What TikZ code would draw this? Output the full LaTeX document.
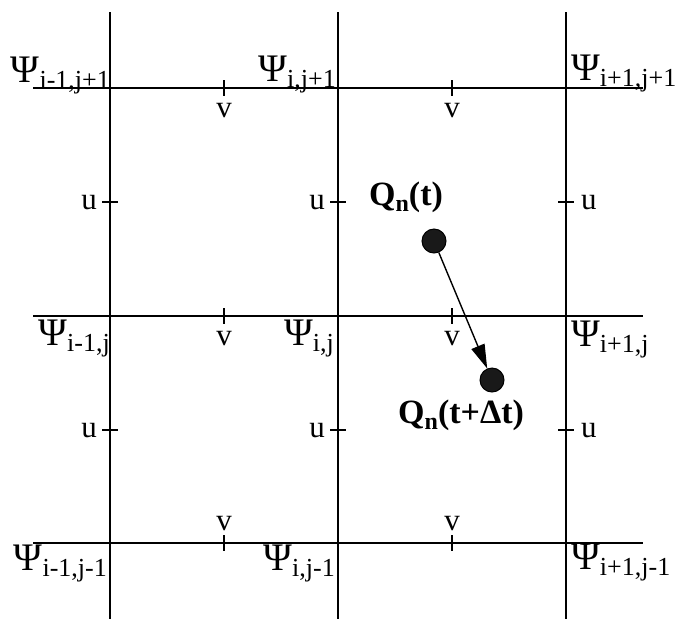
\documentclass[tikz,border=0pt]{standalone}
\usepackage{fontspec}
\setmainfont{Liberation Serif}
\usetikzlibrary{arrows.meta}
\newcommand{\mypsi}[1]{{\fontsize{39}{39}\selectfont Ψ}\raisebox{-6pt}{\fontsize{26}{26}\selectfont #1}}
\newcommand{\myq}[1]{{\bfseries\fontsize{34}{34}\selectfont Q\raisebox{-6pt}{\fontsize{24}{24}\selectfont n}#1}}
\begin{document}
\begin{tikzpicture}[x=1pt,y=-1pt,
  gridline/.style={line width=2.4pt},
  tickmark/.style={line width=1.4pt},
  lab/.style={inner sep=0pt},
  uv/.style={inner sep=0pt,font=\fontsize{31}{31}\selectfont},
  dot/.style={circle,fill=black!90,draw=black,line width=1pt,minimum size=24pt,inner sep=0pt},
  arr/.style={line width=1.4pt,-{Triangle[length=24pt,width=14pt]}}]
\useasboundingbox (0,0) rectangle (679,619);
% grid
\foreach \x/\n in {110/a,338/b,566/c}{
  \coordinate (vt\n) at (\x,12); \coordinate (vb\n) at (\x,619);
  \draw[gridline] (vt\n) -- (vb\n);}
\foreach \y/\n in {88/a,316/b,543/c}{
  \coordinate (hl\n) at (33,\y); \coordinate (hr\n) at (643,\y);
  \draw[gridline] (hl\n) -- (hr\n);}
% v ticks
\foreach \y in {88,316,543}
  \foreach \x in {224,452}
    \draw[tickmark] (\x,\y-8) -- (\x,\y+8);
% u ticks
\foreach \x in {110,338,566}
  \foreach \y in {202,430}
    \draw[tickmark] (\x-8,\y) -- (\x+8,\y);
% v labels
\node[uv,anchor=base] (v1) at (224,117) {v};
\node[uv,anchor=base] (v2) at (452,117) {v};
\node[uv,anchor=base] (v3) at (224,345) {v};
\node[uv,anchor=base] (v4) at (452,345) {v};
\node[uv,anchor=base] (v5) at (224,530) {v};
\node[uv,anchor=base] (v6) at (452,530) {v};
% u labels
\node[uv,anchor=base east] (u1) at (97,209) {u};
\node[uv,anchor=base east] (u2) at (97,437) {u};
\node[uv,anchor=base east] (u3) at (325,209) {u};
\node[uv,anchor=base east] (u4) at (325,437) {u};
\node[uv,anchor=base west] (u5) at (581,209) {u};
\node[uv,anchor=base west] (u6) at (581,437) {u};
% psi labels
\node[lab,anchor=base east] (p1) at (110,82) {\mypsi{i-1,j+1}};
\node[lab,anchor=base east] (p2) at (336,81) {\mypsi{i,j+1}};
\node[lab,anchor=base west] (p3) at (571,80) {\mypsi{i+1,j+1}};
\node[lab,anchor=base east] (p4) at (110,345) {\mypsi{i-1,j}};
\node[lab,anchor=base east] (p5) at (334,345) {\mypsi{i,j}};
\node[lab,anchor=base west] (p6) at (571,346) {\mypsi{i+1,j}};
\node[lab,anchor=base east] (p7) at (107,570) {\mypsi{i-1,j-1}};
\node[lab,anchor=base east] (p8) at (335,570) {\mypsi{i,j-1}};
\node[lab,anchor=base west] (p9) at (571,569) {\mypsi{i+1,j-1}};
% particle
\node[dot] (d1) at (434,241) {};
\node[dot] (d2) at (492,380) {};
\node[lab,anchor=base west] (q1) at (369,205) {\myq{(t)}};
\node[lab,anchor=base west] (q2) at (398,423) {\myq{(t+Δt)}};
\draw[arr] (d1) -- (d2);
\end{tikzpicture}
\end{document}
